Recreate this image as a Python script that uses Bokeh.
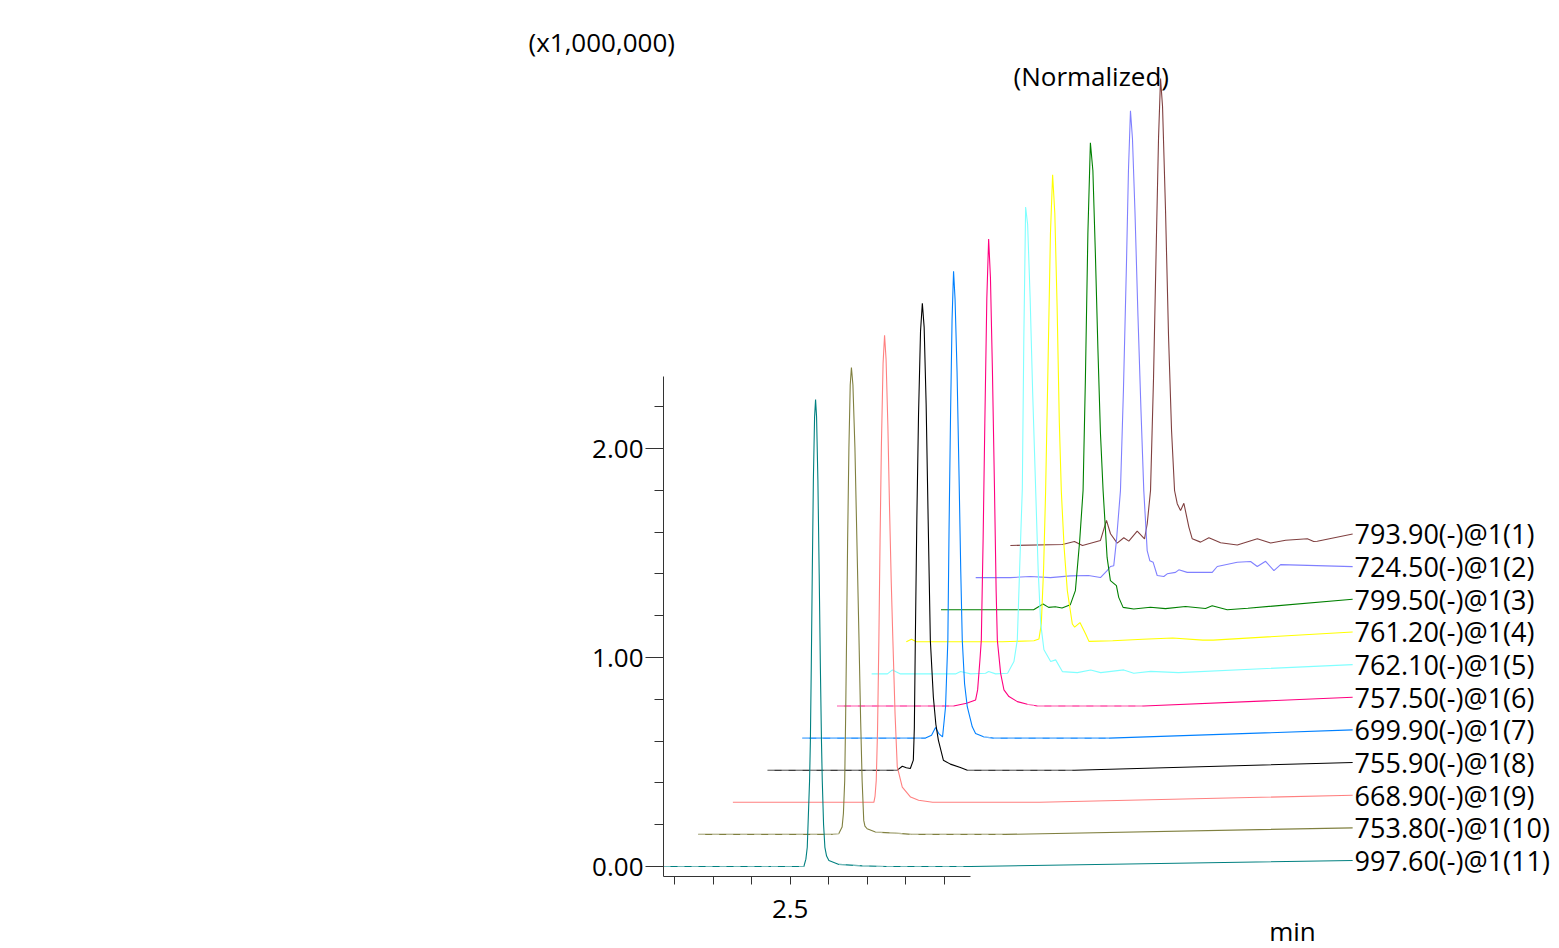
from bokeh.plotting import figure
from bokeh.models import Range1d, FixedTicker, Label, ColumnDataSource, PrintfTickFormatter
from bokeh.embed import file_html
from bokeh.resources import INLINE
from bokeh.core.properties import value

# ---- data (time in min, intensity in x1,000,000, normalized) ----
names = ["793.90(-)@1(1)", "724.50(-)@1(2)", "799.50(-)@1(3)", "761.20(-)@1(4)",
         "762.10(-)@1(5)", "757.50(-)@1(6)", "699.90(-)@1(7)", "755.90(-)@1(8)",
         "668.90(-)@1(9)", "753.80(-)@1(10)", "997.60(-)@1(11)"]
colors = ["#804040", "#8080FF", "#008000", "#FFFF00", "#80FFFF", "#FF0080",
          "#0080FF", "#000000", "#FF8080", "#808040", "#008080"]

t1 = [2.171, 2.3062, 2.3374, 2.3582, 2.405, 2.4206, 2.431, 2.4484, 2.4656, 2.4786,
      2.5004, 2.5194, 2.5264, 2.535, 2.5428, 2.5506, 2.5558, 2.561, 2.5662, 2.574,
      2.5818, 2.5896, 2.5974, 2.6044, 2.613, 2.6216, 2.6346, 2.6434, 2.665, 2.6866,
      2.717, 2.7604, 2.8124, 2.847, 2.886, 2.9424, 2.9588, 2.968]
v1 = [0, 0.005, 0.019, 0, 0.024, 0.12, 0.056, 0.011, 0.037, 0.021,
      0.069, 0.032, 0.104, 0.263, 0.8, 1.5, 1.95, 2.234, 2.1, 1.6,
      1.0, 0.55, 0.263, 0.2, 0.167, 0.202, 0.088, 0.032, 0.016, 0.037,
      0.013, 0.002, 0.032, 0.012, 0.025, 0.032, 0.019, 0.02]

t2 = [2.171, 2.261, 2.313, 2.365, 2.417, 2.4638, 2.495, 2.5124, 2.521, 2.5296,
      2.5366, 2.547, 2.5548, 2.5626, 2.5678, 2.573, 2.5782, 2.5847, 2.5925, 2.6003,
      2.6076, 2.6164, 2.6232, 2.632, 2.6424, 2.6596, 2.6684, 2.69, 2.6986, 2.7204,
      2.7854, 2.7984, 2.8504, 2.885, 2.9024, 2.924, 2.9456, 2.963]
v2 = [0, 0, 0.005, 0, 0.008, 0.01, 0, 0.033, 0.053, 0.057,
      0.177, 0.416, 0.9, 1.5, 1.95, 2.234, 2.1, 1.75, 1.25, 0.8,
      0.416, 0.129, 0.081, 0.073, 0.01, 0.005, 0.018, 0.025, 0.037, 0.025,
      0.025, 0.053, 0.073, 0.077, 0.053, 0.078, 0.033, 0.062]

t3 = [2.171, 2.377, 2.4116, 2.436, 2.4506, 2.468, 2.4854, 2.507, 2.52, 2.5312,
      2.54, 2.546, 2.5525, 2.559, 2.5655, 2.572, 2.5785, 2.585, 2.592, 2.6024,
      2.611, 2.6266, 2.6326, 2.644, 2.6716, 2.715, 2.754, 2.806, 2.858, 2.8754,
      2.9144, 2.968]
v3 = [0, 0, 0, 0.027, 0.011, 0.014, 0.008, 0.024, 0.091, 0.33,
      0.57, 1.1, 1.8, 2.234, 2.1, 1.7, 1.25, 0.85, 0.57, 0.25,
      0.139, 0.115, 0.059, 0.011, 0.003, 0.012, 0.005, 0.015, 0.006, 0.019,
      0, 0.007]

t4 = [2.171, 2.1843, 2.1974, 2.421, 2.5024, 2.5154, 2.5216, 2.5276, 2.5328, 2.5393,
      2.5453, 2.551, 2.5567, 2.5627, 2.5684, 2.5736, 2.5809, 2.5892, 2.6022, 2.6082,
      2.622, 2.6368, 2.6454, 2.707, 2.785, 2.863, 2.941, 2.968]
v4 = [0, 0.012, 0, 0, 0.005, 0.013, 0.085, 0.35, 0.72, 1.35,
      1.95, 2.234, 2.05, 1.6, 1.05, 0.72, 0.45, 0.244, 0.085, 0.07,
      0.092, 0.037, 0.002, 0.005, 0.012, 0.018, 0.008, 0.008]

t5 = [2.171, 2.212, 2.2252, 2.246, 2.389, 2.402, 2.428, 2.467, 2.4748, 2.493, 2.5242,
      2.5406, 2.5494, 2.5554, 2.5624, 2.5663, 2.571, 2.5762, 2.5827, 2.5892, 2.597,
      2.6035, 2.61, 2.6186, 2.636, 2.649, 2.6664, 2.7054, 2.74, 2.766, 2.8258,
      2.8518, 2.896, 2.968]
v5 = [0, 0, 0.019, 0, 0, 0.011, 0, 0.003, 0.011, 0, 0.003,
      0.059, 0.163, 0.5, 0.886, 1.6, 2.234, 2.15, 1.8, 1.35, 0.886,
      0.5, 0.243, 0.115, 0.059, 0.067, 0.011, 0.006, 0.019, 0.006, 0.019,
      0.003, 0.012, 0.006]

t6 = [2.171, 2.474, 2.5078, 2.5312, 2.5364, 2.5424, 2.546, 2.5507, 2.5551, 2.5603,
      2.565, 2.5697, 2.5749, 2.5801, 2.5845, 2.5876, 2.5962, 2.6048, 2.6178, 2.6396,
      2.6656, 2.6916, 2.968]
v6 = [0, 0, 0.013, 0.029, 0.077, 0.22, 0.316, 0.8, 1.35, 1.95,
      2.234, 2.05, 1.6, 1.05, 0.55, 0.316, 0.156, 0.077, 0.045, 0.021,
      0.008, 0, 0]

t7 = [2.171, 2.4912, 2.5068, 2.5172, 2.5263, 2.5354, 2.5432, 2.5492, 2.5523, 2.5562,
      2.5601, 2.564, 2.5679, 2.5731, 2.5783, 2.5827, 2.5866, 2.5926, 2.5996, 2.6126,
      2.6212, 2.642, 2.668, 2.968]
v7 = [0, 0, 0.014, 0.051, 0.02, 0.006, 0.15, 0.469, 1.0, 1.55,
      2.0, 2.234, 2.1, 1.75, 1.25, 0.8, 0.469, 0.26, 0.15, 0.054,
      0.022, 0.006, 0, 0]

t8 = [2.171, 2.508, 2.521, 2.5314, 2.5418, 2.5496, 2.5522, 2.5548, 2.5587, 2.5631, 2.5683,
      2.573, 2.5777, 2.5829, 2.5881, 2.5938, 2.6016, 2.6081, 2.6146, 2.6276, 2.6458,
      2.6718, 2.69, 2.968]
v8 = [0, 0, 0.019, 0.012, 0.008, 0.048, 0.2, 0.622, 1.2, 1.7, 2.1,
      2.234, 2.12, 1.75, 1.2, 0.622, 0.35, 0.22, 0.144, 0.048, 0.029,
      0.013, 0, 0]

t9 = [2.171, 2.5, 2.5372, 2.5403, 2.5434, 2.5468, 2.5502, 2.5533, 2.5567, 2.5611, 2.565,
      2.5689, 2.5736, 2.578, 2.5824, 2.5866, 2.5923, 2.598, 2.611, 2.6326, 2.6534,
      2.6898, 2.968]
v9 = [0, 0, 0, 0.03, 0.105, 0.35, 0.775, 1.25, 1.7, 2.1, 2.234,
      2.12, 1.8, 1.4, 1.05, 0.775, 0.42, 0.169, 0.073, 0.025, 0.01,
      0, 0]

t10 = [2.171, 2.52, 2.536, 2.5448, 2.5482, 2.5516, 2.5539, 2.5565, 2.5591, 2.5625, 2.5659,
       2.569, 2.5729, 2.5781, 2.5833, 2.5885, 2.5929, 2.5968, 2.601, 2.6041, 2.6098,
       2.6314, 2.6834, 2.725, 2.968]
v10 = [0, 0, 0.003, 0.035, 0.1, 0.258, 0.55, 0.95, 1.4, 1.85, 2.15,
       2.234, 2.15, 1.85, 1.4, 0.95, 0.55, 0.258, 0.067, 0.04, 0.027,
       0.011, 0.006, 0, 0]

t11 = [2.171, 2.45, 2.5356, 2.5408, 2.5444, 2.5504, 2.5525, 2.5548, 2.5574, 2.5603, 2.5634,
       2.566, 2.5686, 2.572, 2.5754, 2.5785, 2.5813, 2.5834, 2.5868, 2.5902, 2.5946,
       2.6006, 2.6266, 2.6874, 2.75, 2.968]
v11 = [0, 0, 0, 0.035, 0.092, 0.41, 0.6, 0.95, 1.4, 1.85, 2.15,
       2.234, 2.15, 1.85, 1.4, 0.95, 0.6, 0.41, 0.2, 0.092, 0.05,
       0.029, 0.01, 0.003, 0, 0]

times = [t1, t2, t3, t4, t5, t6, t7, t8, t9, t10, t11]
values = [v1, v2, v3, v4, v5, v6, v7, v8, v9, v10, v11]

# traces whose flat baseline shows a dashed (two-tone) look in the reference
dashed_baseline = [False, False, False, False, False, True, True, True, False, True, True]

# label anchor heights (data units) for traces 1..11
label_y = [1.591, 1.4347, 1.2785, 1.1223, 0.966, 0.8098, 0.6536, 0.4974, 0.3411, 0.1849, 0.0287]
x_ticks_major = [2.5]
x_ticks_minor = [2.2, 2.3, 2.4, 2.6, 2.7, 2.8, 2.9]
y_ticks_major = [0.0, 1.0, 2.0]
y_ticks_minor = [0.2, 0.4, 0.6, 0.8, 1.2, 1.4, 1.6, 1.8, 2.2]

# ---- layout constants ----
DX = 0.0901     # time shift per stacked trace
DY = 0.1536     # intensity shift per stacked trace
LABEL_X = 3.961
FONT = "Open Sans"
FS = "26px"
PXX = 385.0     # px per minute
PXY = 209.0     # px per intensity unit
W, H = 1551, 948
X0 = 2.171 - 663 / PXX
Y0 = -(H - 866) / PXY
X_AXIS_AT = -10 / PXY
Y_AXIS_AT = 2.171
FLAT = 0.012

p = figure(width=W, height=H, output_backend="svg", toolbar_location=None, title=None,
           x_range=Range1d(X0, X0 + W / PXX), y_range=Range1d(Y0, Y0 + H / PXY),
           min_border_left=0, min_border_right=0, min_border_top=0, min_border_bottom=0)
p.background_fill_color = "white"
p.border_fill_color = "white"
p.outline_line_color = None
p.xgrid.visible = False
p.ygrid.visible = False

for k in range(11):
    j = 10 - k
    xs = [t + j * DX for t in times[k]] + [LABEL_X]
    ys = [v + j * DY for v in values[k]] + [label_y[k]]
    p.line(xs, ys, line_color=colors[k], line_width=1.1)
    if dashed_baseline[k]:
        # lighter dashes over the flat stretches of the same trace
        seg_x, seg_y = [], []
        for i in range(len(times[k]) - 1):
            if abs(values[k][i]) < FLAT and abs(values[k][i + 1]) < FLAT:
                seg_x.append([times[k][i] + j * DX, times[k][i + 1] + j * DX])
                seg_y.append([values[k][i] + j * DY, values[k][i + 1] + j * DY])
        if seg_x:
            p.multi_line(seg_x, seg_y, line_color="white", line_width=1.3,
                         line_dash="7 7", line_alpha=0.45)

src = ColumnDataSource(dict(x=[LABEL_X + 0.005] * 11, y=label_y, text=names))
p.text(x="x", y="y", text="text", source=src, text_font=value(FONT),
       text_font_size="27px", text_baseline="middle", text_align="left", text_color="#000000")

# axes placed inside the frame at fixed data locations
p.xaxis.fixed_location = X_AXIS_AT
p.yaxis.fixed_location = Y_AXIS_AT
p.xaxis.bounds = (2.171, 2.968)
p.xaxis.ticker = FixedTicker(ticks=x_ticks_major, minor_ticks=x_ticks_minor)
p.xaxis.major_tick_out = 8
p.xaxis.major_tick_in = 0
p.xaxis.minor_tick_out = 8
p.xaxis.minor_tick_in = 0
p.yaxis.bounds = (X_AXIS_AT, 2.344)
p.yaxis.ticker = FixedTicker(ticks=y_ticks_major, minor_ticks=y_ticks_minor)
p.yaxis.formatter = PrintfTickFormatter(format="%.2f")
p.yaxis.major_tick_out = 18
p.yaxis.major_tick_in = 0
p.yaxis.minor_tick_out = 9
p.yaxis.minor_tick_in = 0
for ax in (p.xaxis, p.yaxis):
    ax.axis_line_color = "#333333"
    ax.major_tick_line_color = "#333333"
    ax.minor_tick_line_color = "#333333"
    ax.major_label_text_font = FONT
    ax.major_label_text_font_size = FS
    ax.major_label_text_color = "#000000"
p.yaxis.major_label_standoff = 2
p.xaxis.major_label_standoff = 15

p.add_layout(Label(x=X0 + 528 / PXX, y=(866 - 41) / PXY, text="(x1,000,000)", text_font=FONT,
                   text_font_size=FS, text_baseline="middle", text_align="left", text_color="#000000"))
p.add_layout(Label(x=X0 + 1013 / PXX, y=(866 - 75) / PXY, text="(Normalized)", text_font=FONT,
                   text_font_size=FS, text_baseline="middle", text_align="left", text_color="#000000"))
p.add_layout(Label(x=X0 + 1292 / PXX, y=(866 - 930) / PXY, text="min", text_font=FONT,
                   text_font_size=FS, text_baseline="alphabetic", text_align="center", text_color="#000000"))

open("out.html", "w").write(file_html(p, INLINE))
